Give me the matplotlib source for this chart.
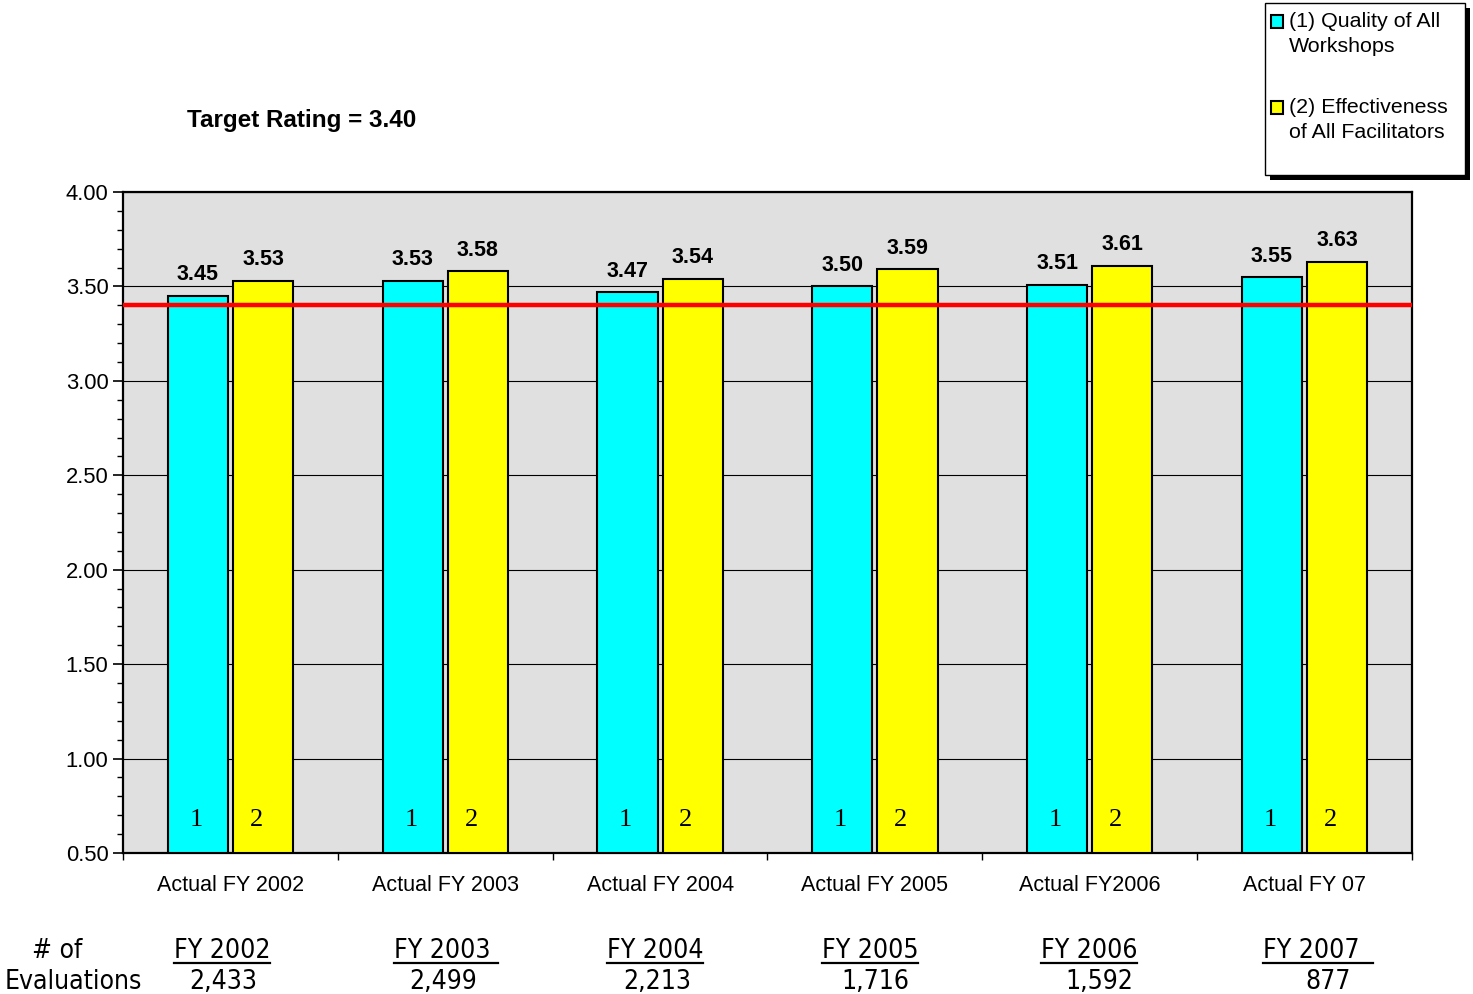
import matplotlib
matplotlib.use("Agg")
import matplotlib.pyplot as plt
import numpy as np
from matplotlib import font_manager as fm
from matplotlib.patches import Rectangle
from matplotlib.lines import Line2D

categories = ["Actual FY 2002", "Actual FY 2003", "Actual FY 2004",
              "Actual FY 2005", "Actual FY2006", "Actual FY 07"]
quality = [3.45, 3.53, 3.47, 3.50, 3.51, 3.55]
effectiveness = [3.53, 3.58, 3.54, 3.59, 3.61, 3.63]
target = 3.40
eval_years = ["FY 2002", "FY 2003 ", "FY 2004", "FY 2005", "FY 2006", "FY 2007  "]
eval_counts = ["2,433", "2,499", "2,213", "1,716", "1,592", "877"]

plt.rcParams['font.family'] = ['Liberation Sans', 'DejaVu Sans']

W, H = 1473, 994
fig = plt.figure(figsize=(W / 100, H / 100), dpi=100)
ax = fig.add_axes([123 / W, 1 - 853 / H, (1412 - 123) / W, (853 - 192) / H])
ax.set_facecolor("#e0e0e0")

x = np.arange(len(categories))
w = 0.28
ax.bar(x - 0.152, np.array(quality) - 0.5, w, bottom=0.5, color="#00ffff",
       edgecolor="black", linewidth=1.5, zorder=3)
ax.bar(x + 0.152, np.array(effectiveness) - 0.5, w, bottom=0.5, color="#ffff00",
       edgecolor="black", linewidth=1.5, zorder=3)

for i in range(len(categories)):
    ax.text(x[i] - 0.152, quality[i] + 0.055, "%.2f" % quality[i], ha="center", va="bottom",
            fontsize=15.5, fontweight="bold", zorder=5)
    ax.text(x[i] + 0.152, effectiveness[i] + 0.055, "%.2f" % effectiveness[i], ha="center",
            va="bottom", fontsize=15.5, fontweight="bold", zorder=5)
    ax.text(x[i] - 0.16, 0.675, "1", ha="center", va="center", fontsize=19,
            family="Liberation Serif", zorder=5)
    ax.text(x[i] + 0.12, 0.675, "2", ha="center", va="center", fontsize=19,
            family="Liberation Serif", zorder=5)

ax.axhline(target, color="#ff0000", linewidth=3.2, zorder=4)

ax.set_xlim(-0.5, len(categories) - 0.5)
ax.set_ylim(0.5, 4.0)
yt = np.arange(0.5, 4.01, 0.5)
ax.set_yticks(yt)
ax.set_yticklabels(["%.2f" % v for v in yt])
ax.set_yticks(np.arange(0.5, 4.01, 0.1), minor=True)
ax.yaxis.grid(True, which="major", color="black", linewidth=0.8, zorder=1)
ax.set_axisbelow(True)
ax.tick_params(axis="y", which="major", length=7, width=1.2, labelsize=15.8, direction="out")
ax.tick_params(axis="y", which="minor", length=4, width=1.0, direction="out")

ax.set_xticks(x)
ax.set_xticklabels(categories)
ax.set_xticks(np.arange(-0.5, len(categories)), minor=True)
ax.tick_params(axis="x", which="major", length=0, labelsize=15.5, pad=16)
ax.tick_params(axis="x", which="minor", length=5, width=1.0, direction="out")

for s in ax.spines.values():
    s.set_linewidth(1.6)
    s.set_color("black")

fig.text(187 / W, 1 - 121 / H, "Target Rating = 3.40", fontsize=17.5,
         fontweight="bold", va="center", ha="left")

# legend box drawn by hand (black drop shadow, square keys at first text line)
fig.add_artist(Rectangle((1270 / W, 1 - 180 / H), 200 / W, 172 / H,
                         transform=fig.transFigure, facecolor="black", edgecolor="none"))
fig.add_artist(Rectangle((1265 / W, 1 - 175 / H), 200 / W, 172 / H,
                         transform=fig.transFigure, facecolor="white", edgecolor="black",
                         linewidth=1.0))
leg_items = [("#00ffff", "(1) Quality of All\nWorkshops", 21),
             ("#ffff00", "(2) Effectiveness\nof All Facilitators", 107)]
for col, lab, yy in leg_items:
    fig.add_artist(Rectangle((1271 / W, 1 - (yy + 7) / H), 12 / W, 13 / H,
                             transform=fig.transFigure, facecolor=col, edgecolor="black",
                             linewidth=1.5))
    fig.text(1289 / W, 1 - (yy - 9) / H, lab, fontsize=15.4, ha="left", va="top",
             linespacing=1.38)

# evaluation counts table below the chart
fam = ["DejaVu Sans"]
stretch = "condensed"
size = 19
if not any(f.name == "DejaVu Sans" and f.stretch == "condensed" for f in fm.fontManager.ttflist):
    stretch = "normal"
    size = 16.5
kw = dict(fontsize=size, family=fam, fontstretch=stretch, va="center")
fig.text(57 / W, 1 - 951 / H, "# of", ha="center", **kw)
fig.text(73 / W, 1 - 982 / H, "Evaluations", ha="center", **kw)
year_x = [222, 446, 655, 870, 1089, 1318]
count_x = [223, 443, 657, 875, 1099, 1328]
fig.canvas.draw()
r = fig.canvas.get_renderer()
for yr, cnt, yx, cx in zip(eval_years, eval_counts, year_x, count_x):
    extra = (len(yr) - len(yr.strip())) * 7
    t = fig.text((yx - extra / 2) / W, 1 - 951 / H, yr.strip(), ha="center", **kw)
    bb = t.get_window_extent(r)
    fig.add_artist(Line2D([bb.x0 / W, (bb.x1 + extra) / W],
                          [1 - 962.5 / H, 1 - 962.5 / H], color="black", linewidth=1.6))
    fig.text(cx / W, 1 - 982 / H, cnt, ha="center", **kw)

fig.savefig("out.png", dpi=100)
